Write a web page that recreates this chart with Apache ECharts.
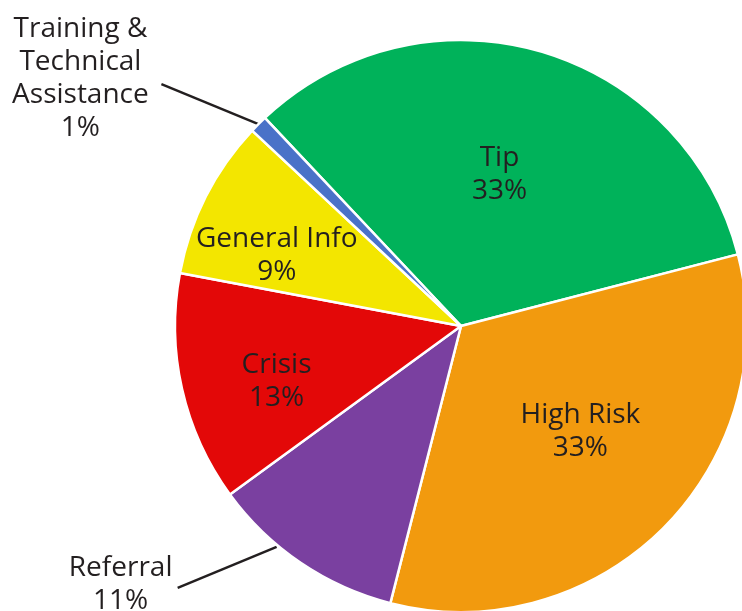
<!DOCTYPE html>
<html>
<head>
<meta charset="utf-8">
<script src="https://cdn.jsdelivr.net/npm/echarts@6/dist/echarts.min.js"></script>
<style>
html,body{margin:0;padding:0;background:#fff;}
#chart{width:742px;height:611px;}
</style>
</head>
<body>
<div id="chart"></div>
<script>
// Data
const categories = ['Tip', 'High Risk', 'Referral', 'Crisis', 'General Info', 'Training &\nTechnical\nAssistance'];
const values = [33, 33, 11, 13, 9, 1];
const colors = ['#00b25a', '#f29a0e', '#7a40a0', '#e30808', '#f3e600', '#4a72c8'];
const outside = [false, false, true, false, false, true];

// label adjustments (style only)
const labelShift = [[-2, -11], [16, 2], [0, 0], [-42, 23], [-54, -4], [0, 0]];
const outsideText = {2: [-180, 22], 5: [-178, -46]};
const outsideLine = {2: [[-24, -16], [-123, 25]], 5: [[0, 0], [-97, -40]]};

const chart = echarts.init(document.getElementById('chart'), null, {renderer: 'canvas'});
const font = '"Open Sans", "Noto Sans", sans-serif';

const data = categories.map((c, i) => ({
  name: c,
  value: values[i],
  itemStyle: {color: colors[i]},
  label: outside[i] ? {position: 'outside'} : {position: 'inside'},
  labelLine: {show: outside[i], length: 10, length2: 10, lineStyle: {color: '#231f20', width: 2.5}}
}));

chart.setOption({
  animation: false,
  series: [{
    type: 'pie',
    center: [461, 326],
    radius: [0, 286],
    startAngle: 133.3,
    clockwise: true,
    avoidLabelOverlap: false,
    itemStyle: {borderColor: '#ffffff', borderWidth: 2.5},
    label: {
      show: true,
      formatter: p => p.name + '\n' + p.value + '%',
      fontFamily: font,
      fontSize: 28,
      lineHeight: 33,
      color: '#231f20',
      align: 'center'
    },
    labelLayout: function (params) {
      const i = params.dataIndex;
      if (outside[i]) {
        const p0 = params.labelLinePoints ? params.labelLinePoints[0] : [params.rect.x, params.rect.y];
        const t = outsideText[i];
        const l = outsideLine[i];
        return {
          x: p0[0] + t[0],
          y: p0[1] + t[1],
          align: 'center',
          verticalAlign: 'middle',
          labelLinePoints: [[p0[0] + l[0][0], p0[1] + l[0][1]], [p0[0] + l[1][0], p0[1] + l[1][1]]]
        };
      }
      const s = labelShift[i];
      return {dx: s[0], dy: s[1]};
    },
    data: data
  }]
});
</script>
</body>
</html>
